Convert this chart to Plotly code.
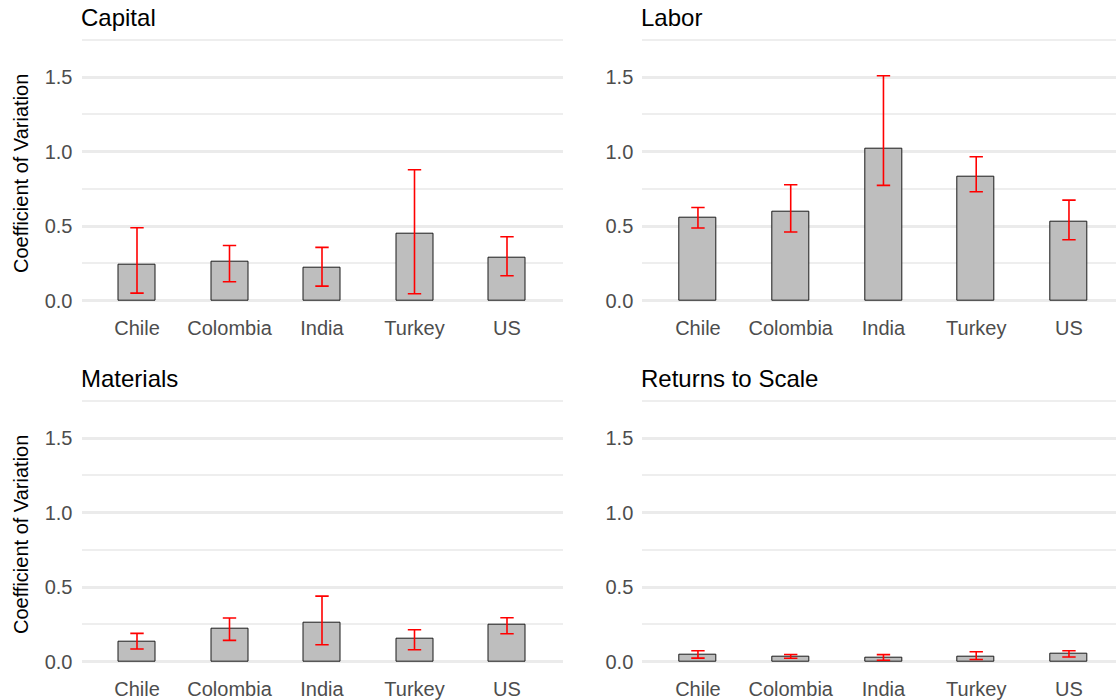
import plotly.graph_objects as go

countries = ["Chile", "Colombia", "India", "Turkey", "US"]

panel_titles = ["Capital", "Labor", "Materials", "Returns to Scale"]

capital_cv = [0.239, 0.259, 0.219, 0.449, 0.286]
capital_lo = [0.051, 0.127, 0.098, 0.047, 0.168]
capital_hi = [0.490, 0.371, 0.358, 0.879, 0.429]

labor_cv = [0.557, 0.597, 1.022, 0.832, 0.532]
labor_lo = [0.488, 0.461, 0.774, 0.731, 0.409]
labor_hi = [0.626, 0.778, 1.510, 0.966, 0.675]

materials_cv = [0.136, 0.219, 0.259, 0.154, 0.248]
materials_lo = [0.085, 0.143, 0.114, 0.080, 0.188]
materials_hi = [0.190, 0.293, 0.440, 0.215, 0.295]

rts_cv = [0.046, 0.035, 0.028, 0.037, 0.052]
rts_lo = [0.024, 0.023, 0.010, 0.015, 0.032]
rts_hi = [0.074, 0.049, 0.048, 0.067, 0.074]

y_tick_vals = [0, 0.5, 1.0, 1.5]
y_tick_text = ["0.0", "0.5", "1.0", "1.5"]
y_axis_label = "Coefficient of Variation"

W, H = 1116, 700
FONT = "Liberation Sans, Arial, Helvetica, sans-serif"

series = [
    (capital_cv, capital_lo, capital_hi),
    (labor_cv, labor_lo, labor_hi),
    (materials_cv, materials_lo, materials_hi),
    (rts_cv, rts_lo, rts_hi),
]

# panel pixel boxes: (left, right, top, bottom)
boxes = [
    (81.5, 562.5, 34.7, 313.4),
    (642.3, 1116.0, 34.7, 313.4),
    (81.5, 562.5, 395.7, 674.4),
    (642.3, 1116.0, 395.7, 674.4),
]
x_ranges = [[-0.6, 4.6], [-0.6, 4.507], [-0.6, 4.6], [-0.6, 4.507]]
y_range = [-0.085, 1.785]

fig = go.Figure()
layout = {}
annotations = []

for i, ((cv, lo, hi), box, xr) in enumerate(zip(series, boxes, x_ranges)):
    n = "" if i == 0 else str(i + 1)
    plus = [h - c for h, c in zip(hi, cv)]
    minus = [c - l for c, l in zip(cv, lo)]
    fig.add_trace(go.Bar(
        x=countries, y=cv, width=0.4,
        marker=dict(color="#BEBEBE", line=dict(color="#1a1a1a", width=1)),
        error_y=dict(type="data", symmetric=False, array=plus, arrayminus=minus,
                     color="#FF0000", thickness=1.6, width=6.7),
        xaxis="x" + n, yaxis="y" + n, showlegend=False, hoverinfo="skip",
    ))
    l, r, t, b = box
    layout["xaxis" + n] = dict(
        domain=[l / W, r / W], range=xr, type="category",
        categoryorder="array", categoryarray=countries,
        showgrid=False, zeroline=False, showline=False, ticks="",
        tickfont=dict(family=FONT, size=20, color="#4D4D4D"),
        ticklabelstandoff=1, anchor="y" + n, fixedrange=True,
    )
    layout["yaxis" + n] = dict(
        domain=[1 - b / H, 1 - t / H], range=y_range,
        tickvals=y_tick_vals, ticktext=y_tick_text,
        showgrid=True, gridcolor="#EBEBEB", gridwidth=3,
        minor=dict(dtick=0.25, tick0=0, showgrid=True, gridcolor="#EEEEEE", gridwidth=1.5),
        zeroline=False, showline=False, ticks="",
        tickfont=dict(family=FONT, size=20, color="#4D4D4D"),
        ticklabelstandoff=8, anchor="x" + n, fixedrange=True,
    )
    annotations.append(dict(
        text=panel_titles[i], xref="paper", yref="paper",
        x=l / W, y=1 - (t - 17) / H, xanchor="left", yanchor="middle", xshift=-3,
        showarrow=False, font=dict(family=FONT, size=24, color="#000000"),
    ))
    if i % 2 == 0:
        annotations.append(dict(
            text=y_axis_label, xref="paper", yref="paper",
            x=21 / W, y=1 - ((t + b) / 2) / H, xanchor="center", yanchor="middle",
            textangle=-90, showarrow=False,
            font=dict(family=FONT, size=20, color="#000000"),
        ))

fig.update_layout(
    width=W, height=H,
    margin=dict(l=0, r=0, t=0, b=0),
    paper_bgcolor="white", plot_bgcolor="white",
    annotations=annotations, bargap=0,
    **layout,
)

fig.write_html("out.html", config={"displayModeBar": False},
               post_script="document.body.style.margin='0';document.body.style.overflow='hidden';")
